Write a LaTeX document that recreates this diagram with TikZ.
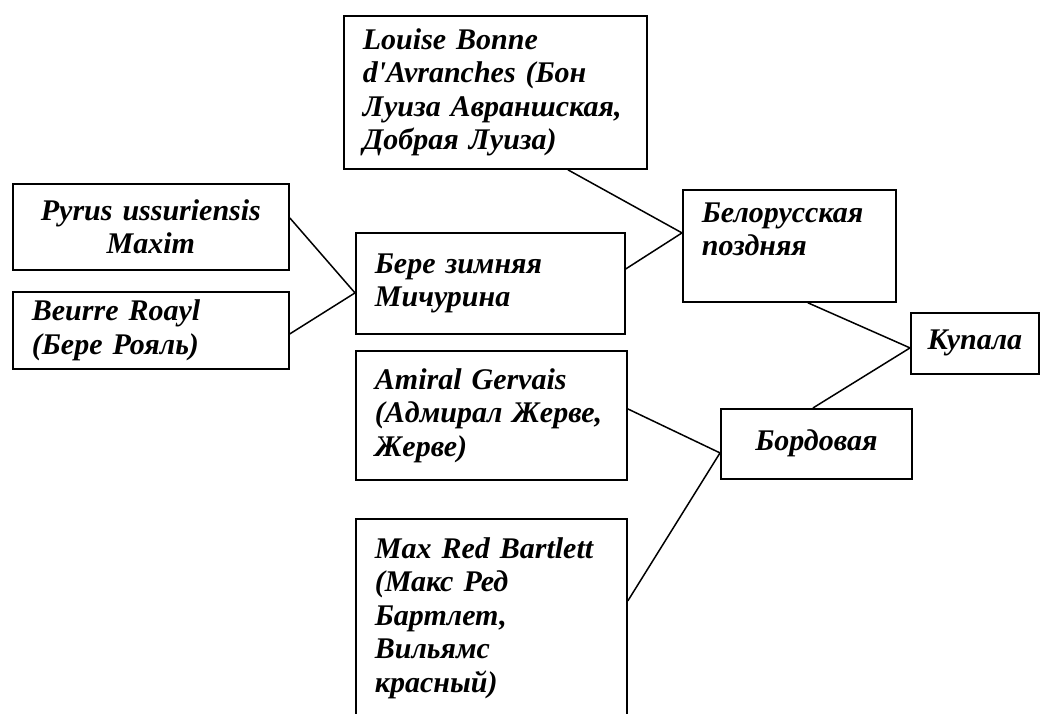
\documentclass[tikz,border=0pt]{standalone}
\usepackage{fontspec}
\setmainfont{Liberation Serif}[Ligatures=TeXOff]
\usepackage{tikz}
\usetikzlibrary{positioning}

\begin{document}
\begin{tikzpicture}[x=1pt,y=-1pt]
\tikzstyle{sort}=[rectangle, draw=black, line width=1.8pt, inner xsep=19pt, inner ysep=0pt, anchor=north west, font=\fontsize{30}{33.5}\selectfont\bfseries\itshape]
\tikzstyle{lsort}=[sort, align=left]
\tikzstyle{csort}=[sort, align=center, inner xsep=0pt]
\tikzstyle{connect}=[line width=1.5pt]
\useasboundingbox (0,0) rectangle (1040,713);

	\node[lsort, text width=265pt, minimum height=153pt] (p_1) at (343,15) {Louise Bonne\\d'Avranches (Бон\\Луиза Авраншская,\\Добрая Луиза)};
	\node[csort, text width=276pt, minimum height=86pt] (p_2) at (12,183) {Pyrus ussuriensis\\Maxim};
	\node[lsort, text width=238pt, minimum height=77pt] (p_3) at (12,291) {Beurre Roayl\\(Бере Рояль)};
	\node[lsort, text width=231pt, minimum height=101pt] (p_4) at (355,232) {Бере зимняя\\Мичурина};
	\node[lsort, text width=175pt, minimum height=112pt] (p_5) at (682,189) {Белорусская\\поздняя\\~};
	\node[csort, text width=128pt, minimum height=61pt] (p_6) at (910,312) {Купала};
	\node[csort, text width=191pt, minimum height=70pt] (p_7) at (720,408) {Бордовая\\[-25pt]~};
	\node[lsort, text width=233pt, minimum height=129pt] (p_8) at (355,350) {Amiral Gervais\\(Адмирал Жерве,\\Жерве)};
	\node[lsort, text width=233pt, minimum height=198pt] (p_9) at (355,518) {Max Red Bartlett\\(Макс Ред\\Бартлет,\\Вильямс\\красный)};

	\path[connect]
		([yshift=9pt]p_2.east) edge [] ([yshift=-9.5pt]p_4.west)
		([yshift=-3.5pt]p_3.east) edge [] ([yshift=-9.5pt]p_4.west)
		([yshift=14.5pt]p_4.east) edge [] ([yshift=13pt]p_5.west)
		([xshift=72.5pt]p_1.south) edge [] ([yshift=13pt]p_5.west)
		([xshift=18.5pt]p_5.south) edge [] ([yshift=-4.5pt]p_6.west)
		([xshift=-3.5pt]p_7.north) edge [] ([yshift=-4.5pt]p_6.west)
		([yshift=6.5pt]p_8.east) edge [] ([yshift=-9pt]p_7.west)
		([yshift=17pt]p_9.east) edge [] ([yshift=-9pt]p_7.west);

\end{tikzpicture}
\end{document}
